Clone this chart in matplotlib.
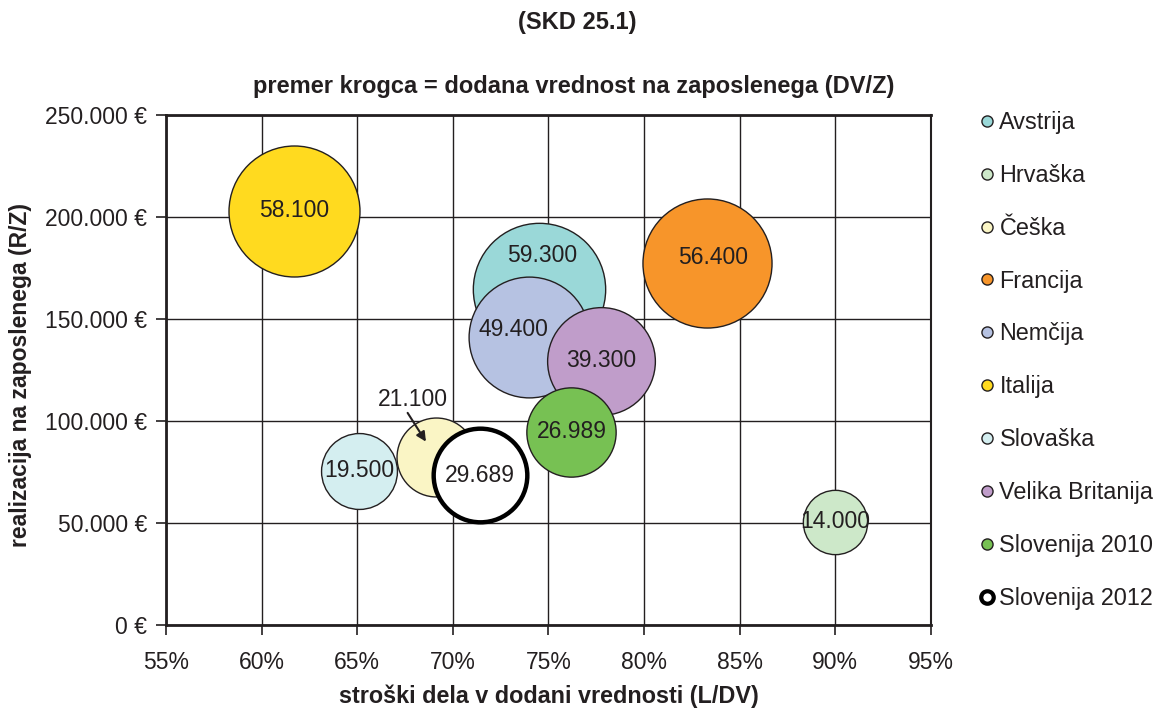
import matplotlib
matplotlib.use('Agg')
import matplotlib.pyplot as plt
from matplotlib.lines import Line2D

plt.rcParams['font.family'] = ['Liberation Sans', 'DejaVu Sans']

# Data
countries = ['Avstrija', 'Hrvaška', 'Češka', 'Francija', 'Nemčija', 'Italija',
             'Slovaška', 'Velika Britanija', 'Slovenija 2010', 'Slovenija 2012']
labor_cost_share = [74.5, 90.0, 69.1, 83.3, 74.0, 61.7, 65.1, 77.75, 76.2, 71.4]  # L/DV in %
revenue_per_employee = [164500, 50500, 82400, 177500, 141400, 203000, 75700, 129400, 94600, 73500]  # R/Z
value_added_per_employee = [59300, 14000, 21100, 56400, 49400, 58100, 19500, 39300, 26989, 29689]  # DV/Z
bubble_labels = ['59.300', '14.000', '21.100', '56.400', '49.400', '58.100',
                 '19.500', '39.300', '26.989', '29.689']

colors = ['#9AD8D8', '#CDE8C9', '#FAF5C5', '#F7952A', '#B6C2E2', '#FFDA1F',
          '#D4EEF0', '#C09DCA', '#77C153', '#FFFFFF']

edge = '#231F20'
size_scale = (131 * 0.72) ** 2 / 58100  # bubble area proportional to DV/Z

fig = plt.figure(figsize=(11.55, 7.11), dpi=100)
ax = fig.add_axes([0.1437, 0.121, 0.6623, 0.7173])

for i, name in enumerate(countries):
    lw = 3.2 if name == 'Slovenija 2012' else 1.0
    ec = 'black' if name == 'Slovenija 2012' else edge
    ax.scatter(labor_cost_share[i], revenue_per_employee[i],
               s=value_added_per_employee[i] * size_scale,
               c=colors[i], edgecolors=ec, linewidths=lw, zorder=3 + i)

# bubble value labels (a few nudged like in the original)
nudge = {'Avstrija': (3, 34), 'Nemčija': (-16, 7), 'Francija': (6, 5)}
for i, name in enumerate(countries):
    xy = (labor_cost_share[i], revenue_per_employee[i])
    if name == 'Češka':
        # label sits outside the bubble with an arrow pointing in
        ax.annotate(bubble_labels[i], xy=xy, xytext=(-23, 57), textcoords='offset pixels',
                    ha='center', va='center', fontsize=16.5, color=edge, zorder=30)
        ax.annotate('', xy=xy, xytext=(-28, 44), textcoords='offset pixels', zorder=30,
                    arrowprops=dict(arrowstyle='-|>', color=edge, lw=1.5,
                                    shrinkA=0, shrinkB=13, mutation_scale=14))
        continue
    dx, dy = nudge.get(name, (0, 0))
    ax.annotate(bubble_labels[i], xy=xy, xytext=(dx, dy), textcoords='offset pixels',
                ha='center', va='center', fontsize=16.5, color=edge, zorder=30)

ax.set_xlim(55, 95)
ax.set_ylim(0, 250000)
ax.set_xticks(range(55, 96, 5))
ax.set_yticks(range(0, 250001, 50000))
ax.set_xticklabels([f'{v}%' for v in range(55, 96, 5)])
ax.set_yticklabels([f'{v:,.0f} €'.replace(',', '.') for v in range(0, 250001, 50000)])
ax.tick_params(axis='both', direction='out', length=7, width=1.2, color=edge,
               labelsize=16.5, labelcolor=edge)
ax.tick_params(axis='x', pad=12)
ax.tick_params(axis='y', pad=6.5)
ax.grid(True, color=edge, linewidth=1.0, zorder=0)
ax.set_axisbelow(True)
for side in ['left', 'bottom', 'top']:
    ax.spines[side].set_linewidth(2.0)
    ax.spines[side].set_color(edge)
ax.spines['right'].set_linewidth(1.5)
ax.spines['right'].set_color(edge)

ax.set_xlabel('stroški dela v dodani vrednosti (L/DV)', fontsize=16.8, fontweight='bold',
              color=edge)
ax.xaxis.set_label_coords(0.5, -0.14)
ax.xaxis.label.set_va('center')
ax.set_ylabel('realizacija na zaposlenega (R/Z)', fontsize=16.5, fontweight='bold',
              color=edge)
ax.yaxis.set_label_coords(-0.19, 0.49)
ax.yaxis.label.set_va('center')

fig.text(0.4996, 0.969, '(SKD 25.1)', ha='center', va='center', fontsize=17,
         fontweight='bold', color=edge)
fig.text(0.497, 0.879, 'premer krogca = dodana vrednost na zaposlenega (DV/Z)',
         ha='center', va='center', fontsize=17, fontweight='bold', color=edge)

handles = []
for i, name in enumerate(countries):
    if name == 'Slovenija 2012':
        handles.append(Line2D([], [], marker='o', linestyle='none', markersize=9,
                              markerfacecolor='white', markeredgecolor='black',
                              markeredgewidth=3))
    else:
        handles.append(Line2D([], [], marker='o', linestyle='none', markersize=8,
                              markerfacecolor=colors[i], markeredgecolor=edge,
                              markeredgewidth=1))
fig.legend(handles, countries, loc='upper left', bbox_to_anchor=(0.838, 0.857),
           frameon=False, fontsize=16.8, labelspacing=1.28, handletextpad=0.15,
           handlelength=0.8, borderaxespad=0, labelcolor=edge)

fig.savefig('out.png', dpi=100)
